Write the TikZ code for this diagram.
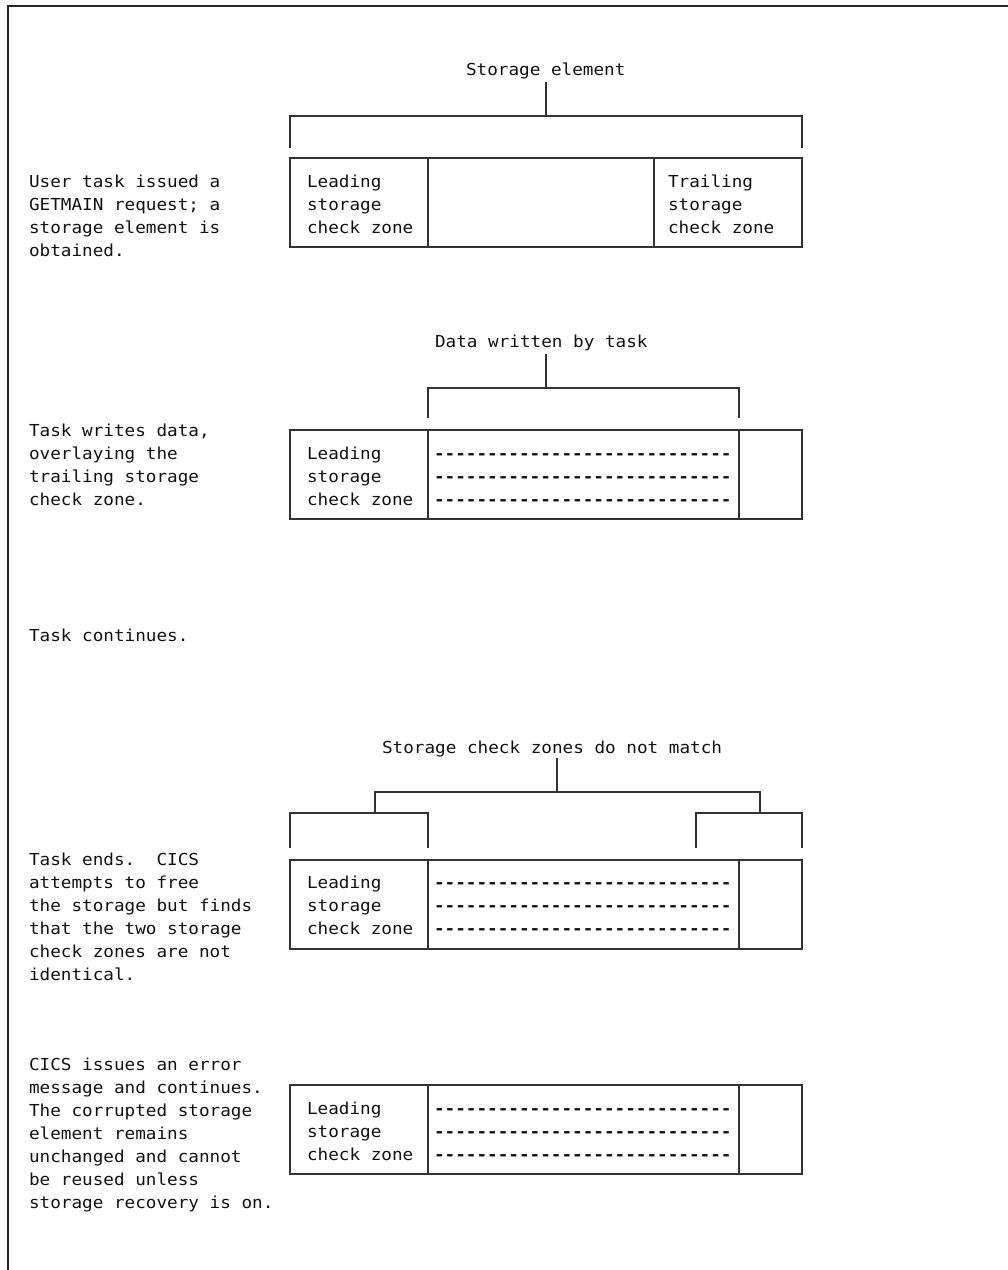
\documentclass[tikz,border=0pt]{standalone}
\usepackage{fontspec}
\newfontfamily\diagmono[FakeStretch=1.07]{DejaVu Sans Mono}
\definecolor{lin}{HTML}{333333}
\definecolor{txtc}{HTML}{111111}
\newcommand\dashrow{{\bfseries\foreach\k in {1,...,28}{-\kern0pt}}}
\tikzset{
  txt/.style={anchor=base west, inner sep=0pt, outer sep=0pt,
    font=\diagmono\fontsize{16.5}{23}\selectfont, text=txtc},
  ln/.style={draw=lin, line width=1.4pt},
  framel/.style={draw=black!85, line width=2pt},
}
\begin{document}
\begin{tikzpicture}[x=1pt,y=-1pt]
\useasboundingbox (0,0) rectangle (1008,1270);
% frame
\coordinate (fb) at (8,1272);
\coordinate (fc) at (8,6);
\coordinate (fr) at (1010,6);
\draw[framel] (fb) -- (fc) -- (fr);

% ---------- left descriptions ----------
\foreach \t [count=\i] in {{User task issued a},{GETMAIN request; a},{storage element is},{obtained.}}
  \node[txt] (da\i) at (29,{187+23*(\i-1)}) {\t};
\foreach \t [count=\i] in {{Task writes data,},{overlaying the},{trailing storage},{check zone.}}
  \node[txt] (db\i) at (29,{436+23*(\i-1)}) {\t};
\node[txt] (dc1) at (29,641) {Task continues.};
\foreach \t [count=\i] in {{Task ends.\ \ CICS},{attempts to free},{the storage but finds},{that the two storage},{check zones are not},{identical.}}
  \node[txt] (dd\i) at (29,{865+23*(\i-1)}) {\t};
\foreach \t [count=\i] in {{CICS issues an error},{message and continues.},{The corrupted storage},{element remains},{unchanged and cannot},{be reused unless},{storage recovery is on.}}
  \node[txt] (de\i) at (29,{1070+23*(\i-1)}) {\t};

% ---------- stage 1 ----------
\node[txt] (t1) at (466,75) {Storage element};
\draw[ln] (546,82) -- (546,116);
\draw[ln] (290,148) -- (290,116) -- (802,116) -- (802,148);
\draw[ln] (290,158) rectangle (802,247);
\draw[ln] (428,158) -- (428,247);
\draw[ln] (654,158) -- (654,247);
\foreach \t [count=\i] in {{Leading},{storage},{check zone}}
  \node[txt] (a1\i) at (307,{187+23*(\i-1)}) {\t};
\foreach \t [count=\i] in {{Trailing},{storage},{check zone}}
  \node[txt] (b1\i) at (668,{187+23*(\i-1)}) {\t};

% ---------- stage 2 ----------
\node[txt] (t2) at (435,347) {Data written by task};
\draw[ln] (546,354) -- (546,388);
\draw[ln] (428,418) -- (428,388) -- (739,388) -- (739,418);
\draw[ln] (290,430) rectangle (802,519);
\draw[ln] (428,430) -- (428,519);
\draw[ln] (739,430) -- (739,519);
\foreach \t [count=\i] in {{Leading},{storage},{check zone}}
  \node[txt] (a2\i) at (307,{459+23*(\i-1)}) {\t};
\foreach \i in {1,2,3}
  \node[txt] (c2\i) at (434,{459+23*(\i-1)}) {\dashrow};

% ---------- stage 3 ----------
\node[txt] (t3) at (382,753) {Storage check zones do not match};
\draw[ln] (557,758) -- (557,792);
\draw[ln] (375,813) -- (375,792) -- (760,792) -- (760,813);
\draw[ln] (290,848) -- (290,813) -- (428,813) -- (428,848);
\draw[ln] (696,848) -- (696,813) -- (802,813) -- (802,848);
\draw[ln] (290,860) rectangle (802,949);
\draw[ln] (428,860) -- (428,949);
\draw[ln] (739,860) -- (739,949);
\foreach \t [count=\i] in {{Leading},{storage},{check zone}}
  \node[txt] (a3\i) at (307,{888+23*(\i-1)}) {\t};
\foreach \i in {1,2,3}
  \node[txt] (c3\i) at (434,{888+23*(\i-1)}) {\dashrow};

% ---------- stage 4 ----------
\draw[ln] (290,1085) rectangle (802,1174);
\draw[ln] (428,1085) -- (428,1174);
\draw[ln] (739,1085) -- (739,1174);
\foreach \t [count=\i] in {{Leading},{storage},{check zone}}
  \node[txt] (a4\i) at (307,{1114+23*(\i-1)}) {\t};
\foreach \i in {1,2,3}
  \node[txt] (c4\i) at (434,{1114+23*(\i-1)}) {\dashrow};
\end{tikzpicture}
\end{document}
